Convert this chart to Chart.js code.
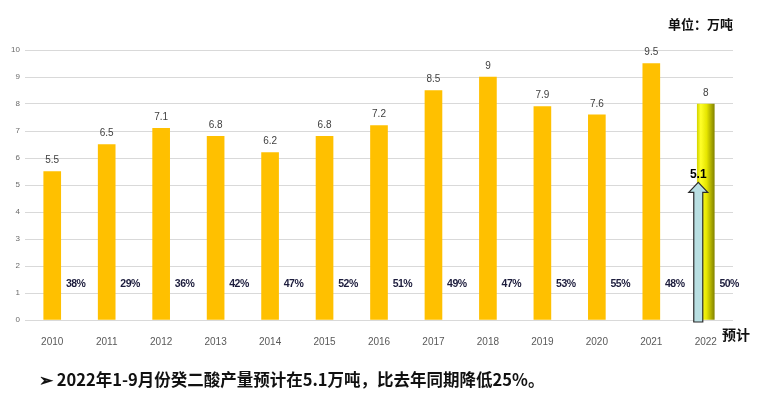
<!DOCTYPE html>
<html>
<head>
<meta charset="utf-8">
<script src="https://cdn.jsdelivr.net/npm/chart.js@4/dist/chart.umd.min.js"></script>
<style>
  html, body { margin: 0; padding: 0; background: #fff; }
  #wrap { position: relative; width: 773px; height: 395px; overflow: hidden; }
  #unit { position: absolute; left: 668px; top: 14px; font: bold 13px "Noto Sans CJK SC"; color: #111; }
  #forecast { position: absolute; left: 722px; top: 324px; font: bold 14px "Noto Sans CJK SC"; color: #111; }
  #note { position: absolute; left: 39px; top: 367px; font: bold 16.5px "Noto Sans CJK SC"; color: #111; white-space: nowrap; }
</style>
</head>
<body>
<div id="wrap">
  <canvas id="id_canv" width="773" height="395"></canvas>
  <div id="unit">单位：万吨</div>
  <div id="forecast">预计</div>
  <div id="note">➢ 2022年1-9月份癸二酸产量预计在5.1万吨，比去年同期降低25%。</div>
</div>
<script>
  // years on the x axis, 2022 is the forecast
  const years = ['2010', '2011', '2012', '2013', '2014', '2015', '2016', '2017', '2018', '2019', '2020', '2021', '2022']
  // production, 10k tonnes
  const output = [5.5, 6.5, 7.1, 6.8, 6.2, 6.8, 7.2, 8.5, 9, 7.9, 7.6, 9.5, 8]
  // share labels written between the bars
  const shares = ['38%', '29%', '36%', '42%', '47%', '52%', '51%', '49%', '47%', '53%', '55%', '48%', '50%']
  // Jan-Sep 2022 output, drawn as an arrow
  const ytd2022 = 5.1
  const yTicks = [0, 1, 2, 3, 4, 5, 6, 7, 8, 9, 10]

  const shareLevel = 1.33 // y value the share labels sit at

  /* Draws the value labels, share labels and the 1-9 arrow using the chart's scales */
  const annotate = {
    id: 'annotate',
    afterDatasetsDraw(chart) {
      let c = chart.ctx
      let x = chart.scales.x
      let y = chart.scales.y
      let meta = chart.getDatasetMeta(0)
      let step = x.getPixelForValue(1) - x.getPixelForValue(0)
      c.save()

      c.font = '10px "Liberation Sans"'
      c.fillStyle = '#404040'
      c.textAlign = 'center'
      c.textBaseline = 'bottom'
      meta.data.forEach((bar, i) => {
        c.fillText(String(output[i]), bar.x, bar.y - 6)
      })

      c.font = 'bold 10.5px "Liberation Sans Narrow", "Liberation Sans"'
      c.fillStyle = '#1c1c3c'
      c.textBaseline = 'middle'
      c.letterSpacing = '-0.5px'
      shares.forEach((s, i) => {
        c.fillText(s, x.getPixelForValue(i) + step * 0.43, y.getPixelForValue(shareLevel))
      })
      c.letterSpacing = '0px'

      // arrow for 2022 Jan-Sep
      let last = years.length - 1
      let ax = x.getPixelForValue(last) - 7.5
      let top = y.getPixelForValue(ytd2022)
      let base = y.getPixelForValue(0) + 2
      let neck = top + 10
      c.beginPath()
      c.moveTo(ax - 4.5, base)
      c.lineTo(ax - 4.5, neck)
      c.lineTo(ax - 9.5, neck)
      c.lineTo(ax, top)
      c.lineTo(ax + 9.5, neck)
      c.lineTo(ax + 4.5, neck)
      c.lineTo(ax + 4.5, base)
      c.closePath()
      c.fillStyle = '#b9dfe2'
      c.fill()
      c.lineWidth = 1.2
      c.strokeStyle = '#2b2b2b'
      c.stroke()

      c.font = 'bold 12px "Liberation Sans"'
      c.fillStyle = '#000'
      c.textBaseline = 'bottom'
      c.fillText(String(ytd2022), ax, top - 2)
      c.restore()
    }
  }

  new Chart(document.getElementById('id_canv'), {
    type: 'bar',
    data: {
      labels: years,
      datasets: [
        {
          data: output,
          barThickness: 17,
          backgroundColor: (ctx) => {
            if (ctx.dataIndex !== years.length - 1) return '#FFC000'
            let xs = ctx.chart.scales.x
            if (!xs) return '#e6e600'
            let cx = xs.getPixelForValue(ctx.dataIndex)
            let g = ctx.chart.ctx.createLinearGradient(cx - 8.5, 0, cx + 8.5, 0)
            g.addColorStop(0, '#d6d600')
            g.addColorStop(0.2, '#ffff2a')
            g.addColorStop(0.55, '#e6e600')
            g.addColorStop(1, '#858500')
            return g
          },
        },
      ],
    },
    options: {
      responsive: false,
      animation: false,
      layout: { padding: { top: 50, right: 40, left: 0, bottom: 0 } },
      plugins: {
        legend: { display: false },
        tooltip: { enabled: false },
      },
      scales: {
        x: {
          grid: { display: false },
          border: { display: false },
          ticks: {
            color: '#595959',
            font: { family: 'Liberation Sans', size: 10 },
            padding: 8,
            autoSkip: false,
            maxRotation: 0,
          },
          afterFit: (scale) => { scale.height = 75 },
        },
        y: {
          min: 0,
          max: 10,
          afterBuildTicks: (scale) => { scale.ticks = yTicks.map(v => ({ value: v })) },
          grid: { color: '#d9d9d9', drawTicks: false },
          border: { display: false },
          ticks: {
            color: '#6a6a6a',
            font: { family: 'Liberation Sans', size: 8 },
            padding: 5,
          },
          afterFit: (scale) => { scale.width = 25 },
        },
      },
    },
    plugins: [annotate],
  })
</script>
</body>
</html>
